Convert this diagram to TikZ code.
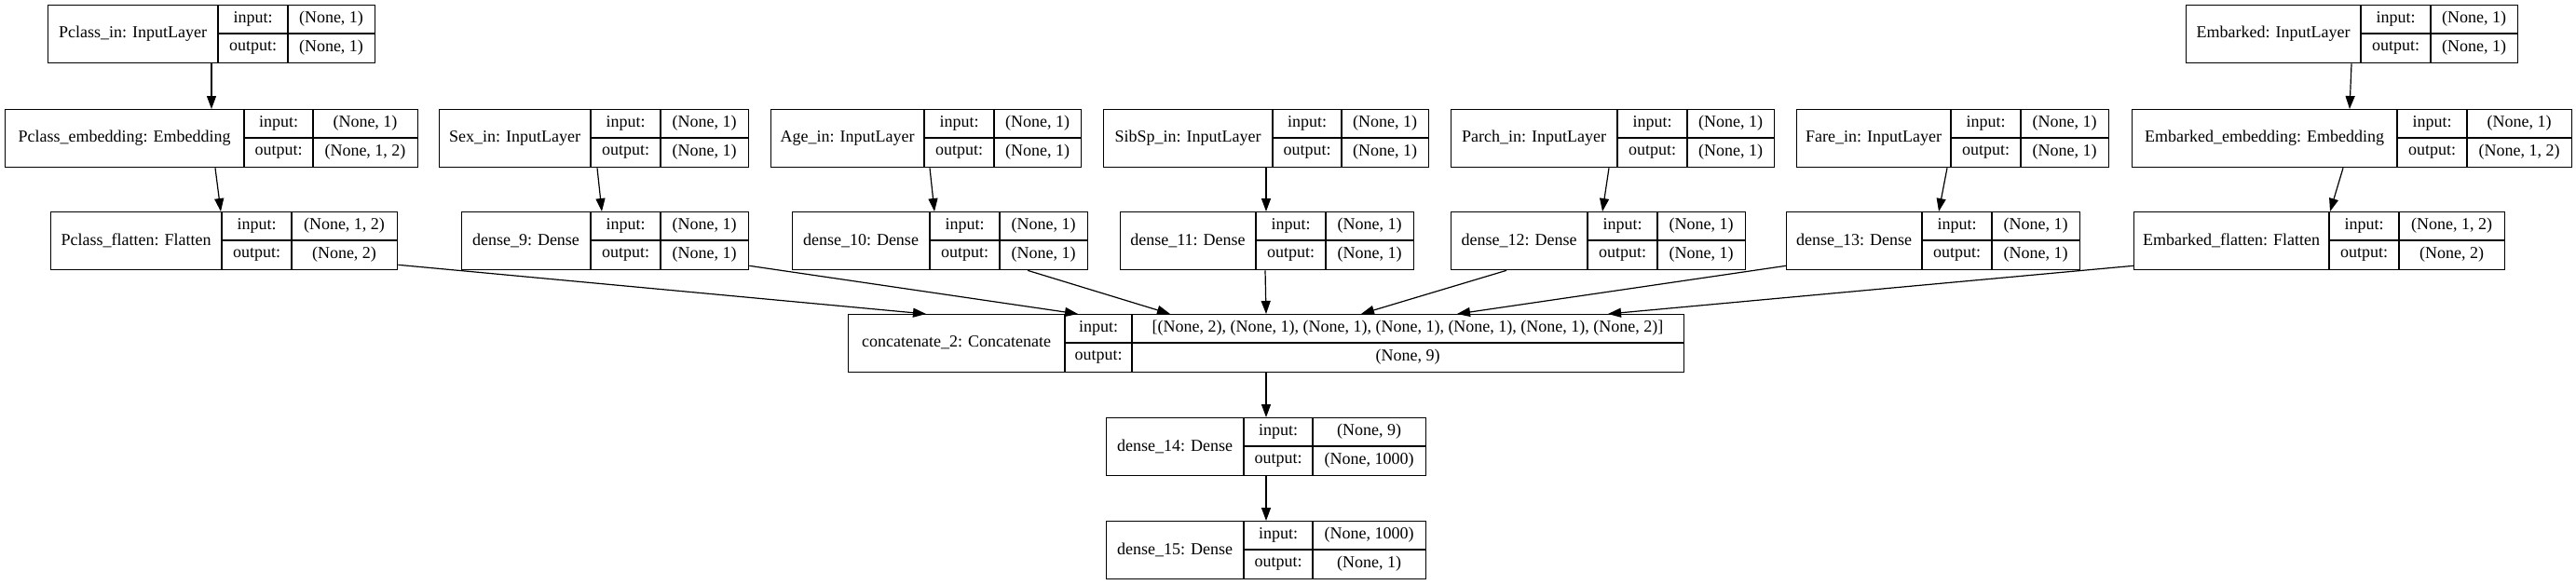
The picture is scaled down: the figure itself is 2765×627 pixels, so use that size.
\documentclass[tikz,border=0pt]{standalone}
\usepackage{fontspec}
\setmainfont{Liberation Serif}
\usetikzlibrary{arrows.meta}
\tikzset{
  recbox/.style={draw, line width=1.3pt, inner sep=0pt, rectangle},
  rule/.style={line width=1.3pt},
  txt/.style={inner sep=0pt, font=\fontsize{18}{20}\selectfont},
  arr/.style={line width=1.2pt, -{Triangle[length=14pt,width=10pt]}},
}
% #1 name, #2 x1, #3 div1, #4 div2, #5 x2, #6 top, #7 title, #8 input, #9 output
\newcommand{\rec}[9]{%
  \node[recbox, minimum width={#5-#2}, minimum height=62, anchor=north west] (#1) at (#2,#6) {};
  \draw[rule] (#3,#6) -- (#3,{#6+62});
  \draw[rule] (#4,#6) -- (#4,{#6+62});
  \draw[rule] (#3,{#6+31}) -- (#5,{#6+31});
  \node[txt] (#1-t) at ({(#2+#3)/2},{#6+31}) {#7};
  \node[txt] (#1-il) at ({(#3+#4)/2},{#6+15.5}) {input:};
  \node[txt] (#1-ol) at ({(#3+#4)/2},{#6+46.5}) {output:};
  \node[txt] (#1-iv) at ({(#4+#5)/2},{#6+15.5}) {#8};
  \node[txt] (#1-ov) at ({(#4+#5)/2},{#6+46.5}) {#9};
}
\begin{document}
\begin{tikzpicture}[x=1pt,y=-1pt]
\fill[white] (0,0) rectangle (2765,627);
\useasboundingbox (0,0) rectangle (2765,627);
% row 0
\rec{pin}{51}{234}{309}{402}{5}{Pclass\_in: InputLayer}{(None, 1)}{(None, 1)}
\rec{ein}{2346}{2534}{2609}{2702}{5}{Embarked: InputLayer}{(None, 1)}{(None, 1)}
% row 1
\rec{pemb}{5}{262}{336}{448}{117}{Pclass\_embedding: Embedding}{(None, 1)}{(None, 1, 2)}
\rec{sex}{471}{634}{709}{803}{117}{Sex\_in: InputLayer}{(None, 1)}{(None, 1)}
\rec{age}{827}{992}{1067}{1160}{117}{Age\_in: InputLayer}{(None, 1)}{(None, 1)}
\rec{sib}{1184}{1366}{1440}{1533}{117}{SibSp\_in: InputLayer}{(None, 1)}{(None, 1)}
\rec{parch}{1557}{1736}{1811}{1904}{117}{Parch\_in: InputLayer}{(None, 1)}{(None, 1)}
\rec{fare}{1928}{2094}{2169}{2263}{117}{Fare\_in: InputLayer}{(None, 1)}{(None, 1)}
\rec{eemb}{2288}{2573}{2648}{2760}{117}{Embarked\_embedding: Embedding}{(None, 1)}{(None, 1, 2)}
% row 2
\rec{pf}{54}{238}{313}{426}{227}{Pclass\_flatten: Flatten}{(None, 1, 2)}{(None, 2)}
\rec{d9}{495}{634}{709}{803}{227}{dense\_9: Dense}{(None, 1)}{(None, 1)}
\rec{d10}{850}{998}{1073}{1167}{227}{dense\_10: Dense}{(None, 1)}{(None, 1)}
\rec{d11}{1202}{1348}{1423}{1517}{227}{dense\_11: Dense}{(None, 1)}{(None, 1)}
\rec{d12}{1557}{1704}{1779}{1873}{227}{dense\_12: Dense}{(None, 1)}{(None, 1)}
\rec{d13}{1917}{2063}{2138}{2232}{227}{dense\_13: Dense}{(None, 1)}{(None, 1)}
\rec{ef}{2290}{2500}{2575}{2688}{227}{Embarked\_flatten: Flatten}{(None, 1, 2)}{(None, 2)}
% row 3
\rec{cc}{910}{1143}{1215}{1807}{337}{concatenate\_2: Concatenate}{[(None, 2), (None, 1), (None, 1), (None, 1), (None, 1), (None, 1), (None, 2)]}{(None, 9)}
% row 4, 5
\rec{d14}{1187}{1335}{1409}{1530}{448}{dense\_14: Dense}{(None, 9)}{(None, 1000)}
\rec{d15}{1187}{1335}{1409}{1530}{559}{dense\_15: Dense}{(None, 1000)}{(None, 1)}
% edges row 0 -> 1
\draw[arr] ([xshift=176pt]pin.south west) -- ([xshift=222pt]pemb.north west);
\draw[arr] ([xshift=178pt]ein.south west) -- ([xshift=234pt]eemb.north west);
% row 1 -> 2
\draw[arr] ([xshift=226pt]pemb.south west) -- ([xshift=183pt]pf.north west);
\draw[arr] ([xshift=170pt]sex.south west) -- ([xshift=151pt]d9.north west);
\draw[arr] ([xshift=171pt]age.south west) -- ([xshift=153pt]d10.north west);
\draw[arr] ([xshift=175pt]sib.south west) -- ([xshift=157pt]d11.north west);
\draw[arr] ([xshift=170pt]parch.south west) -- ([xshift=163pt]d12.north west);
\draw[arr] ([xshift=162pt]fare.south west) -- ([xshift=164pt]d13.north west);
\draw[arr] ([xshift=227pt]eemb.south west) -- ([xshift=211pt]ef.north west);
% row 2 -> 3
\draw[arr] ([yshift=6pt]pf.south east) -- ([xshift=84pt]cc.north west);
\draw[arr] ([yshift=5pt]d9.south east) -- ([xshift=247pt]cc.north west);
\draw[arr] ([xshift=253pt]d10.south west) -- ([xshift=346pt]cc.north west);
\draw[arr] ([xshift=156pt]d11.south west) -- ([xshift=449pt]cc.north west);
\draw[arr] ([xshift=60pt]d12.south west) -- ([xshift=551pt]cc.north west);
\draw[arr] ([yshift=5pt]d13.south west) -- ([xshift=654pt]cc.north west);
\draw[arr] ([yshift=5pt]ef.south west) -- ([xshift=816pt]cc.north west);
% row 3 -> 4 -> 5
\draw[arr] ([xshift=449pt]cc.south west) -- ([xshift=172pt]d14.north west);
\draw[arr] ([xshift=172pt]d14.south west) -- ([xshift=172pt]d15.north west);
\end{tikzpicture}
\end{document}
